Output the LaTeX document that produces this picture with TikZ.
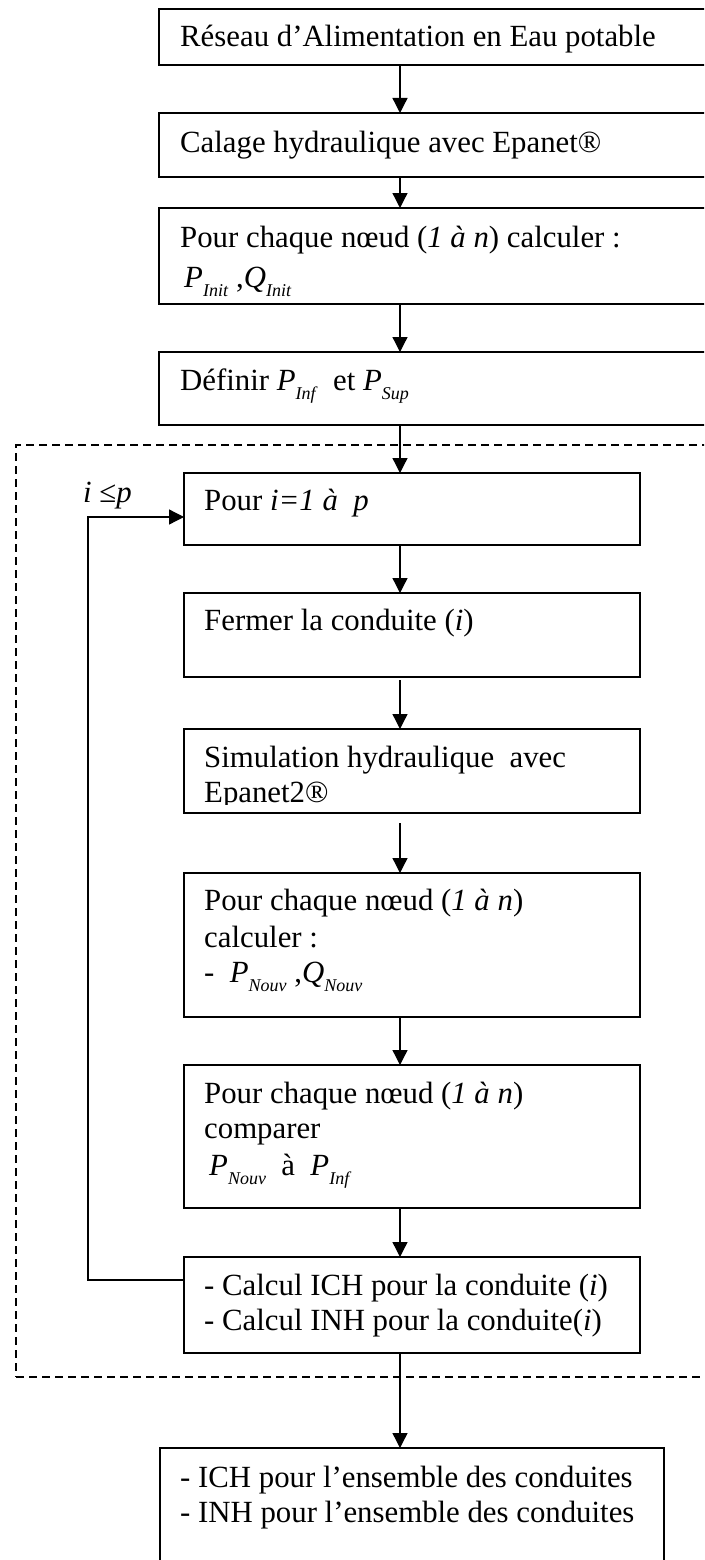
\documentclass[tikz,border=0pt]{standalone}
\usepackage{fontspec}
\setmainfont{Liberation Serif}
\usetikzlibrary{arrows.meta}
\newcommand\pv[2]{\textit{#1}\raisebox{-0.3em}{\fontsize{18}{18}\selectfont\textit{#2}}}
\begin{document}
\begin{tikzpicture}[x=1pt,y=-1pt,
  box/.style={draw, line width=1.6pt, inner sep=0pt, outer sep=0pt, anchor=north west},
  frame/.style={draw, line width=1.4pt, dash pattern=on 8pt off 5pt, inner sep=0pt, outer sep=0pt, anchor=north west},
  txt/.style={anchor=base west, inner sep=0pt, font=\fontsize{30.8}{36}\selectfont},
  arr/.style={line width=1.3pt, -{Triangle[length=15pt,width=15pt]}},
  plainline/.style={line width=1.3pt}]
\useasboundingbox (0,0) rectangle (704,1560);
\clip (0,0) rectangle (704,1560);
% dashed frame
\node[frame, minimum width=700pt, minimum height=932pt] (loopframe) at (16,445) {};
% top boxes
\node[box, minimum width=560pt, minimum height=56pt] (b1) at (159,9) {};
\node[box, minimum width=560pt, minimum height=64pt] (b2) at (159,113) {};
\node[box, minimum width=560pt, minimum height=96pt] (b3) at (159,208) {};
\node[box, minimum width=560pt, minimum height=73pt] (b4) at (159,352) {};
% inner boxes
\node[box, minimum width=456pt, minimum height=72pt] (p1) at (184,473) {};
\node[box, minimum width=456pt, minimum height=84pt] (p2) at (184,593) {};
\node[box, minimum width=456pt, minimum height=84pt] (p3) at (184,729) {};
\node[box, minimum width=456pt, minimum height=144pt] (p4) at (184,873) {};
\node[box, minimum width=456pt, minimum height=143pt] (p5) at (184,1065) {};
\node[box, minimum width=456pt, minimum height=96pt] (p6) at (184,1257) {};
\node[box, minimum width=504pt, minimum height=130pt] (fin) at (160,1448) {};
% texts
\node[txt] (t1) at (180,47) {Réseau d’Alimentation en Eau potable};
\node[txt] (t2) at (180,152) {Calage hydraulique avec Epanet®};
\node[txt] (t3a) at (180,247) {Pour chaque nœud (\textit{1 à n}) calculer :};
\node[txt] (t3b) at (184,287) {\pv{P}{Init} ,\pv{Q}{Init}};
\node[txt] (t4) at (180,390) {Définir \pv{P}{Inf} \ et \pv{P}{Sup}};
\node[txt] (t5) at (204,510) {Pour \textit{i=1 à \ p}};
\node[txt] (t6) at (204,630) {Fermer la conduite (\textit{i})};
\node[txt] (t7a) at (204,767) {Simulation hydraulique \ avec};
\begin{scope}
\clip (p3.north west) rectangle ([yshift=9pt]p3.south east);
\node[txt] (t7b) at (204,802) {Epanet2®};
\end{scope}
\node[txt] (t8a) at (204,910) {Pour chaque nœud (\textit{1 à n})};
\node[txt] (t8b) at (204,947) {calculer :};
\node[txt] (t8c) at (204,982) {- \ \pv{P}{Nouv} ,\pv{Q}{Nouv}};
\node[txt] (t9a) at (204,1103) {Pour chaque nœud (\textit{1 à n})};
\node[txt] (t9b) at (204,1138) {comparer};
\node[txt] (t9c) at (209,1175) {\pv{P}{Nouv} \ à \ \pv{P}{Inf}};
\node[txt] (t10a) at (204,1295) {- Calcul ICH pour la conduite (\textit{i})};
\node[txt] (t10b) at (204,1330) {- Calcul INH pour la conduite(\textit{i})};
\node[txt] (t11a) at (180,1487) {- ICH pour l’ensemble des conduites};
\node[txt] (t11b) at (180,1522) {- INH pour l’ensemble des conduites};
\node[txt] (cond) at (83,502) {\textit{i} ≤\textit{p}};
% arrows
\coordinate (ax) at (400,0);
\draw[arr] (b1.south -| ax) -- (b2.north -| ax);
\draw[arr] (b2.south -| ax) -- (b3.north -| ax);
\draw[arr] (b3.south -| ax) -- (b4.north -| ax);
\draw[arr] (b4.south -| ax) -- (p1.north -| ax);
\draw[arr] (p1.south -| ax) -- (p2.north -| ax);
\draw[arr, shorten <=3pt] (p2.south -| ax) -- (p3.north -| ax);
\draw[arr, shorten <=10pt] (p3.south -| ax) -- (p4.north -| ax);
\draw[arr] (p4.south -| ax) -- (p5.north -| ax);
\draw[arr] (p5.south -| ax) -- (p6.north -| ax);
\draw[arr] (p6.south -| ax) -- (fin.north -| ax);
% loop back
\coordinate (lx) at (88,0);
\coordinate (lb) at ([yshift=25pt]p6.west);
\coordinate (lt) at ([yshift=-8pt]p1.west);
\draw[arr] (lb) -- (lx |- lb) -- (lx |- lt) -- (lt);
\end{tikzpicture}
\end{document}
